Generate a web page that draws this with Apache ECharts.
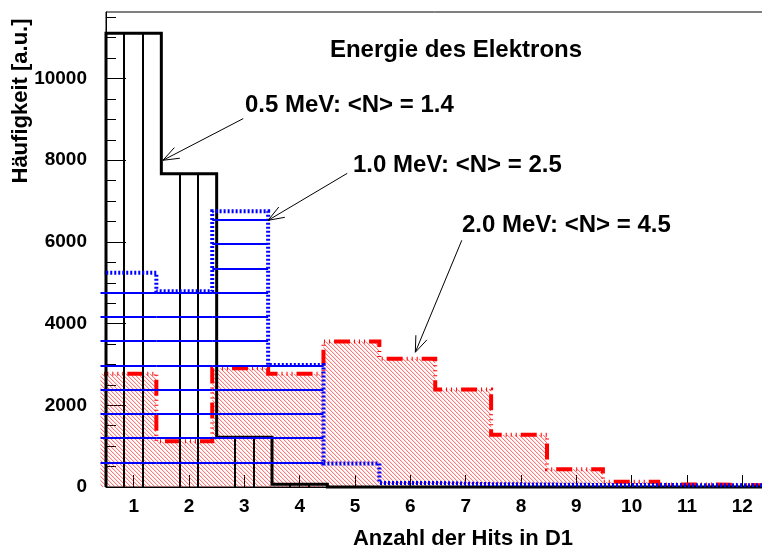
<!DOCTYPE html>
<html>
<head>
<meta charset="utf-8">
<script src="https://cdn.jsdelivr.net/npm/echarts@6/dist/echarts.min.js"></script>
<style>
  html, body { margin: 0; padding: 0; background: #fff; }
  #chart { width: 762px; height: 548px; }
</style>
</head>
<body>
<div id="chart"></div>
<script>
// Bin edges along "Anzahl der Hits in D1"
const edges05 = [0.5, 1.5, 2.5, 3.5, 4.5, 5.5, 6.5, 7.5, 8.5, 9.5, 10.5, 11.5, 12.5];
const edges10 = [0.40, 1.41, 2.42, 3.43, 4.43, 5.44, 6.45, 7.46, 8.47, 9.48, 10.48, 11.49, 12.50];
const edges20 = [0.40, 1.41, 2.42, 3.43, 4.43, 5.44, 6.45, 7.46, 8.47, 9.48, 10.48, 11.49, 12.50];

// Counts per bin for each electron energy
const counts05 = [11110, 7670, 1220, 70, 0, 0, 0, 0, 0, 0, 0, 0];
const counts10 = [5245, 4790, 6750, 2985, 575, 100, 70, 60, 50, 50, 40, 40];
const counts20 = [2770, 1120, 2905, 2770, 3565, 3140, 2390, 1280, 435, 130, 60, 40];

// Axis ticks
const xTicks = [1, 2, 3, 4, 5, 6, 7, 8, 9, 10, 11, 12];
const yTicks = [0, 2000, 4000, 6000, 8000, 10000];
const yMinorTicks = [500, 1000, 1500, 2000, 2500, 3000, 3500, 4000, 4500, 5000, 5500,
                     6000, 6500, 7000, 7500, 8000, 8500, 9000, 9500, 10000, 10500, 11000, 11500];

// Annotations: label text and arrow [fromX, fromY, toX, toY] in data units
const noteTexts = ['0.5 MeV: <N> = 1.4', '1.0 MeV: <N> = 2.5', '2.0 MeV: <N> = 4.5'];
const noteArrows = [
  [2.98, 9020, 1.53, 8000],
  [4.86, 7680, 3.43, 6530],
  [6.93, 6040, 6.09, 3300]
];

const FONT = '"Liberation Sans", Arial, Helvetica, sans-serif';
const Y_MAX = 11630;
const H_STEP_10 = 594; // spacing of the horizontal hatch lines (data units)

// diagonal hatch tile for the 2.0 MeV histogram
function makeHatchTile() {
  const c = document.createElement('canvas');
  c.width = 4; c.height = 4;
  const g = c.getContext('2d');
  for (let i = 0; i < 4; i++) {
    g.fillStyle = 'rgba(255,0,0,0.52)';
    g.fillRect(i, i, 1, 1);
    g.fillStyle = 'rgba(255,0,0,0.14)';
    g.fillRect((i + 1) % 4, i, 1, 1);
  }
  return c;
}
const hatchTile = makeHatchTile();

function binRows(edges, counts) {
  return counts.map((c, i) => [edges[i], edges[i + 1], c]);
}

function outlinePoints(edges, counts) {
  const pts = [[edges[0], 0]];
  counts.forEach((c, i) => {
    pts.push([edges[i], c]);
    pts.push([edges[i + 1], c]);
  });
  pts.push([edges[edges.length - 1], 0]);
  return pts;
}

// filled/hatched bins
function hatchSeries(name, edges, counts, kind, z) {
  return {
    type: 'custom',
    name: name,
    z: z,
    silent: true,
    animation: false,
    clip: false,
    encode: { x: [0, 1], y: 2 },
    data: binRows(edges, counts),
    renderItem: function (params, api) {
      const lo = api.value(0), hi = api.value(1), v = api.value(2);
      if (!(v > 0)) return null;
      const a = api.coord([lo, v]);
      const b = api.coord([hi, 0]);
      const children = [];
      if (kind === 'diag') {
        children.push({
          type: 'rect',
          shape: { x: a[0], y: a[1], width: b[0] - a[0], height: b[1] - a[1] },
          style: { fill: { image: hatchTile, repeat: 'repeat' }, stroke: null }
        });
      } else if (kind === 'vert') {
        const w = (b[0] - a[0]) / 3;
        for (let k = 1; k <= 2; k++) {
          const x = Math.round(a[0] + k * w);
          children.push({
            type: 'line',
            shape: { x1: x, y1: a[1], x2: x, y2: b[1] },
            style: { stroke: '#000', lineWidth: 2 }
          });
        }
      } else if (kind === 'horiz') {
        for (let k = 1; k * H_STEP_10 < v; k++) {
          const y = Math.round(api.coord([lo, k * H_STEP_10])[1]);
          children.push({
            type: 'line',
            shape: { x1: a[0], y1: y, x2: b[0], y2: y },
            style: { stroke: '#0000ff', lineWidth: 2 }
          });
        }
      }
      return { type: 'group', children: children };
    }
  };
}

function outlineSeries(name, edges, counts, color, width, dash, z) {
  return {
    type: 'line',
    name: name,
    z: z,
    silent: true,
    animation: false,
    clip: false,
    symbol: 'none',
    data: outlinePoints(edges, counts),
    lineStyle: { color: color, width: width, type: dash, cap: 'butt', join: 'miter' }
  };
}

const arrowSeries = {
  type: 'custom',
  z: 20,
  silent: true,
  animation: false,
  clip: false,
  encode: { x: [0, 2], y: [1, 3] },
  data: noteArrows,
  renderItem: function (params, api) {
    const p = api.coord([api.value(0), api.value(1)]);
    const q = api.coord([api.value(2), api.value(3)]);
    const ang = Math.atan2(p[1] - q[1], p[0] - q[0]);
    const L = 17, spread = 0.36;
    const h1 = [q[0] + L * Math.cos(ang + spread), q[1] + L * Math.sin(ang + spread)];
    const h2 = [q[0] + L * Math.cos(ang - spread), q[1] + L * Math.sin(ang - spread)];
    const st = { stroke: '#000', lineWidth: 1, fill: null };
    return {
      type: 'group',
      children: [
        { type: 'line', shape: { x1: p[0], y1: p[1], x2: q[0], y2: q[1] }, style: st },
        { type: 'polyline', shape: { points: [h1, q, h2] }, style: st }
      ]
    };
  }
};

function textEl(str, x, y, size, align, rot) {
  return {
    type: 'text',
    x: x, y: y,
    rotation: rot || 0,
    silent: true,
    z: 30,
    style: {
      text: str,
      fontSize: size,
      fontWeight: 'bold',
      fontFamily: FONT,
      fill: '#000',
      textAlign: align,
      align: align,
      textVerticalAlign: 'middle',
      verticalAlign: 'middle'
    }
  };
}

const plainNumber = function (v) { return String(v); };

const chart = echarts.init(document.getElementById('chart'), null, { renderer: 'canvas' });
chart.setOption({
  backgroundColor: '#fff',
  animation: false,
  grid: {
    left: 106, width: 664, top: 12, bottom: 61,
    outerBoundsMode: 'none',
    show: true, borderColor: '#000', borderWidth: 1, backgroundColor: 'transparent',
    containLabel: false
  },
  xAxis: {
    type: 'value', min: 0.5, max: 12.5,
    axisLine: { show: true, onZero: false, lineStyle: { color: '#000', width: 1 } },
    axisTick: { show: true, inside: true, length: 12, customValues: xTicks, lineStyle: { color: '#000', width: 1 } },
    axisLabel: { customValues: xTicks, formatter: plainNumber, fontSize: 19, fontWeight: 'bold', fontFamily: FONT, color: '#000', margin: 10 },
    splitLine: { show: false }
  },
  yAxis: [
    {
      type: 'value', min: 0, max: Y_MAX,
      axisLine: { show: true, lineStyle: { color: '#000', width: 1 } },
      axisTick: { show: true, inside: true, length: 20, customValues: yTicks, lineStyle: { color: '#000', width: 1 } },
      axisLabel: { customValues: yTicks, formatter: plainNumber, fontSize: 19, fontWeight: 'bold', fontFamily: FONT, color: '#000', margin: 19, padding: [4, 0, 0, 0] },
      splitLine: { show: false }
    },
    {
      type: 'value', min: 0, max: Y_MAX, position: 'left',
      axisLine: { show: false },
      axisTick: { show: true, inside: true, length: 10, customValues: yMinorTicks, lineStyle: { color: '#000', width: 1 } },
      axisLabel: { show: false },
      splitLine: { show: false }
    }
  ],
  graphic: [
    textEl('Energie des Elektrons', 456, 50, 24, 'center'),
    textEl(noteTexts[0], 245, 105, 24, 'left'),
    textEl(noteTexts[1], 353, 165, 24, 'left'),
    textEl(noteTexts[2], 462, 225, 24, 'left'),
    textEl('Anzahl der Hits in D1', 463, 539, 22, 'center'),
    textEl('Häufigkeit [a.u.]', 21, 101, 22, 'center', Math.PI / 2)
  ],
  series: [
    hatchSeries('2.0 MeV', edges20, counts20, 'diag', 2),
    outlineSeries('2.0 MeV', edges20, counts20, '#ff0000', 4, [16, 4, 1, 4, 1, 4, 1, 4], 3),
    hatchSeries('0.5 MeV', edges05, counts05, 'vert', 4),
    outlineSeries('0.5 MeV', edges05, counts05, '#000000', 3, 'solid', 5),
    hatchSeries('1.0 MeV', edges10, counts10, 'horiz', 6),
    outlineSeries('1.0 MeV', edges10, counts10, '#0000ff', 4, [2, 2], 7),
    arrowSeries
  ]
});
</script>
</body>
</html>
